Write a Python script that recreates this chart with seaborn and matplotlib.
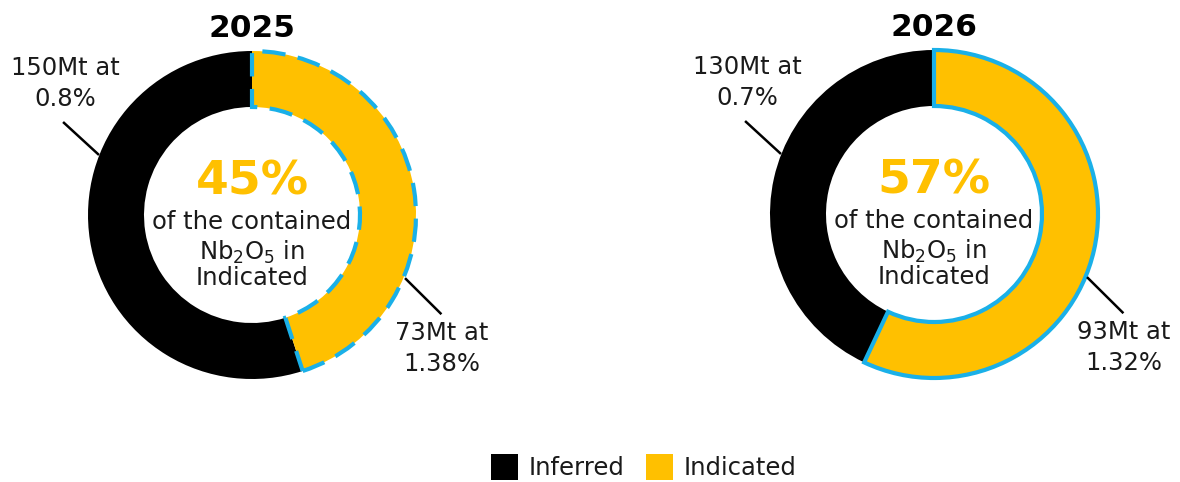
import matplotlib
matplotlib.use("Agg")
import matplotlib.pyplot as plt
from matplotlib.patches import Patch
import seaborn as sns

# Resource split by year (share of contained Nb2O5, %)
years = ["2025", "2026"]
categories = ["Inferred", "Indicated"]
indicated_share = [45, 57]
inferred_share = [55, 43]
inferred_labels = ["150Mt at\n0.8%", "130Mt at\n0.7%"]
indicated_labels = ["73Mt at\n1.38%", "93Mt at\n1.32%"]
outline_styles = ["dashed", "solid"]

sns.set_theme(style="white")
plt.rcParams["font.family"] = ["DejaVu Sans"]

palette = dict(zip(categories, ["#000000", "#FFC000"]))
outline_color = "#1AB0E8"
text_color = "#1a1a1a"
body_size = 17.5

W, H = 1180, 482
fig = plt.figure(figsize=(W / 100, H / 100), dpi=100)
fig.patch.set_facecolor("white")

R = 164.0          # outer radius in pixels
ring = 56.0        # ring thickness in pixels
half = 230.0       # half-size of each axes box in pixels
centers = [(252, 215), (934, 214)]
lim = half / R

for i, (cx, cy) in enumerate(centers):
    ax = fig.add_axes([(cx - half) / W, (H - cy - half) / H, 2 * half / W, 2 * half / H])
    wedges, _ = ax.pie(
        [indicated_share[i], inferred_share[i]],
        colors=[palette["Indicated"], palette["Inferred"]],
        startangle=90,
        counterclock=False,
        radius=1.0,
        wedgeprops=dict(width=ring / R, linewidth=0),
    )
    ind = wedges[0]
    ind.set_edgecolor(outline_color)
    ind.set_linewidth(3.0)
    if outline_styles[i] == "dashed":
        ind.set_linestyle((0, (5.6, 3.0)))
    ind.set_zorder(5)
    ax.set_xlim(-lim, lim)
    ax.set_ylim(-lim, lim)
    ax.set_aspect("equal")
    ax.axis("off")

    # year title
    ax.text(0, 1.085, years[i], ha="center", va="baseline", fontsize=22.5,
            fontweight="bold", color="black", clip_on=False)

    # centre statement
    ax.text(0, 0.122, f"{indicated_share[i]}%", ha="center", va="baseline",
            fontsize=34, fontweight="bold", color=palette["Indicated"])
    ax.text(0, -0.085, "of the contained", ha="center", va="baseline",
            fontsize=body_size, color=text_color)
    ax.text(0, -0.274, r"Nb$_2$O$_5$ in", ha="center", va="baseline",
            fontsize=body_size, color=text_color)
    ax.text(0, -0.427, "Indicated", ha="center", va="baseline",
            fontsize=body_size, color=text_color)

    # leader lines and callouts
    ax.plot([-1.152, -0.933], [0.567, 0.366], color="black", lw=1.8,
            solid_capstyle="butt", clip_on=False, zorder=6)
    ax.plot([0.933, 1.155], [-0.385, -0.605], color="black", lw=1.8,
            solid_capstyle="butt", clip_on=False, zorder=6)
    ax.text(-1.14, 0.802, inferred_labels[i], ha="center", va="center",
            fontsize=body_size, color=text_color, linespacing=1.32, clip_on=False)
    ax.text(1.155, -0.814, indicated_labels[i], ha="center", va="center",
            fontsize=body_size, color=text_color, linespacing=1.32, clip_on=False)

handles = [Patch(facecolor=palette[c], edgecolor="none") for c in categories]
fig.legend(handles, categories, loc="center", ncol=2,
           bbox_to_anchor=(644 / W, 1 - 467 / H), frameon=False,
           fontsize=body_size, handlelength=1.1, handleheight=1.25,
           handletextpad=0.45, columnspacing=0.9, labelcolor=text_color)

fig.savefig("out.png", dpi=100, facecolor="white")
